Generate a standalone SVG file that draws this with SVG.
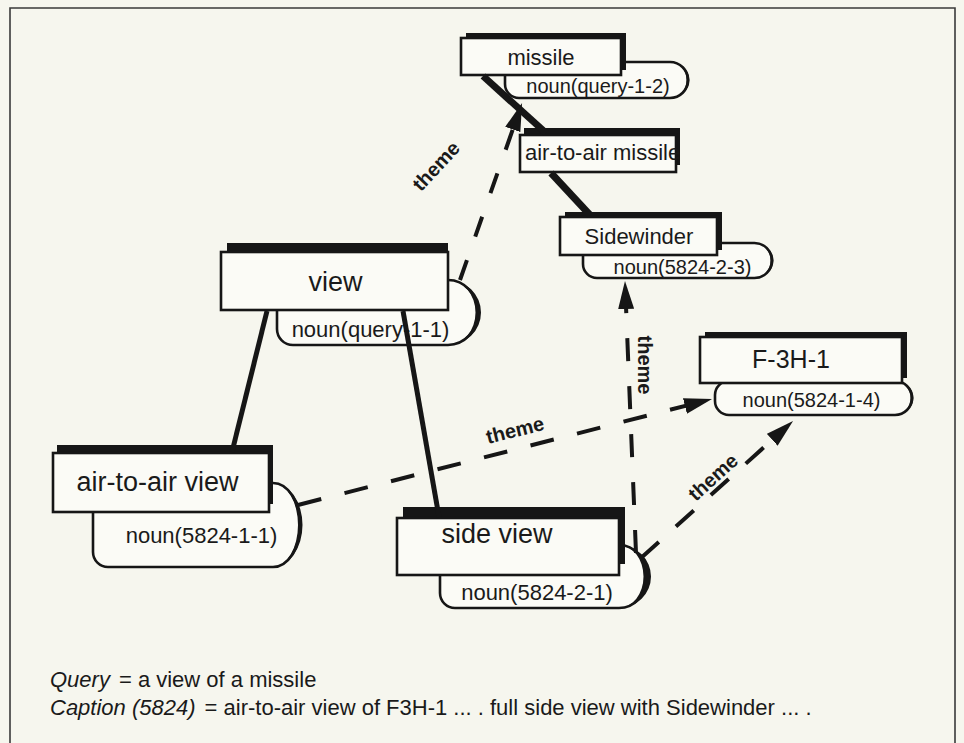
<svg xmlns="http://www.w3.org/2000/svg" width="964" height="743" viewBox="0 0 964 743">
  <style>
    .bg { fill: #f6f6ee; }
    .frame { fill: none; stroke: #3a3a3a; stroke-width: 1.6; }
    .box { fill: #fbfbf6; stroke: #161616; stroke-width: 2.6; }
    .shade { fill: #161616; }
    .pill { fill: #fbfbf6; stroke: #161616; stroke-width: 2.6; }
    .bold-end { fill: #161616; }
    .lbl { font-family: "Liberation Sans", Arial, Helvetica, sans-serif; fill: #1a1a1a; text-anchor: middle; }
    .big { font-size: 27px; }
    .mid { font-size: 25px; }
    .small { font-size: 22px; }
    .noun-l { font-size: 22px; }
    .noun-s { font-size: 20px; }
    .edge { fill: none; stroke: #161616; stroke-linecap: butt; }
    .isa { stroke-width: 7; }
    .isa-thin { stroke-width: 5; }
    .theme { stroke-width: 4; stroke-dasharray: 23 25; }
    .theme-lbl { font-family: "Liberation Sans", Arial, Helvetica, sans-serif; font-size: 20px; font-weight: bold; fill: #1a1a1a; text-anchor: middle; }
    .cap { font-family: "Liberation Sans", Arial, Helvetica, sans-serif; font-size: 22px; fill: #1a1a1a; }
    .it { font-style: italic; }
  </style>
  <defs>
    <marker id="arrow" markerUnits="userSpaceOnUse" markerWidth="28" markerHeight="16" viewBox="0 0 28 16" refX="20" refY="8" orient="auto">
      <path d="M0,0 L28,8 L0,16 Z" fill="#161616"/>
    </marker>
  </defs>

  <rect class="bg" x="0" y="0" width="964" height="743"/>
  <path class="frame" d="M10,743 V8 H955 V743"/>

  <g id="node-missile">
    <path class="pill" d="M519,62 H670 A18 18 0 0 1 670,98 H519 A14 14 0 0 1 505,84 V76 A14 14 0 0 1 519,62 Z"/>
    <path class="bold-end" d="M670,62 A19.5 18 0 0 1 670,98 A16.5 18 0 0 0 670,62 Z"/>
    <rect class="shade" x="466" y="33" width="160" height="37"/>
    <rect class="box" x="461" y="38" width="160" height="37"/>
    <text class="lbl small" x="541" y="65">missile</text>
    <text class="lbl noun-s" x="598" y="93">noun(query-1-2)</text>
  </g>

  <g id="node-air-to-air-missile">
    <rect class="shade" x="524" y="128" width="156" height="37"/>
    <rect class="box" x="520" y="135" width="156" height="37"/>
    <text class="lbl small" x="525" y="160" style="text-anchor:start">air-to-air missile</text>
  </g>

  <g id="node-sidewinder">
    <path class="pill" d="M597,243 H754.5 A17.5 17.5 0 0 1 754.5,278 H597 A14 14 0 0 1 583,264 V257 A14 14 0 0 1 597,243 Z"/>
    <path class="bold-end" d="M754.5,243 A19 17.5 0 0 1 754.5,278 A16 17.5 0 0 0 754.5,243 Z"/>
    <rect class="shade" x="565" y="212" width="157" height="38"/>
    <rect class="box" x="560" y="217" width="157" height="38"/>
    <text class="lbl small" x="639" y="244">Sidewinder</text>
    <text class="lbl noun-s" x="682.5" y="274">noun(5824-2-3)</text>
  </g>

  <g id="node-view">
    <path class="pill" d="M293,280 H448 A30 32.5 0 0 1 448,345 H293 A16 16 0 0 1 277,329 V296 A16 16 0 0 1 293,280 Z"/>
    <path class="bold-end" d="M448,280 A33 32.5 0 0 1 448,345 A27.5 32.5 0 0 0 448,280 Z"/>
    <rect class="shade" x="227" y="243" width="221" height="58"/>
    <rect class="box" x="221" y="252" width="227" height="58"/>
    <text class="lbl big" x="335.5" y="291">view</text>
    <text class="lbl noun-l" x="370.5" y="337">noun(query-1-1)</text>
  </g>

  <g id="node-f3h1">
    <path class="pill" d="M729,381 H895 A17 17 0 0 1 895,415 H729 A14 14 0 0 1 715,401 V395 A14 14 0 0 1 729,381 Z"/>
    <path class="bold-end" d="M895,381 A18.5 17 0 0 1 895,415 A15.5 17 0 0 0 895,381 Z"/>
    <rect class="shade" x="705" y="332" width="202" height="46"/>
    <rect class="box" x="700" y="337" width="202" height="46"/>
    <text class="lbl mid" x="791" y="368">F-3H-1</text>
    <text class="lbl noun-s" x="811.5" y="407">noun(5824-1-4)</text>
  </g>

  <g id="node-air-to-air-view">
    <path class="pill" d="M108,483 H273 A27 42 0 0 1 273,567 H108 A15 15 0 0 1 93,552 V498 A15 15 0 0 1 108,483 Z"/>
    <path class="bold-end" d="M273,483 A29.5 42 0 0 1 273,567 A25 42 0 0 0 273,483 Z"/>
    <rect class="shade" x="57" y="445" width="216" height="59"/>
    <rect class="box" x="53" y="453" width="216" height="59"/>
    <text class="lbl big" x="157.5" y="491">air-to-air view</text>
    <text class="lbl noun-l" x="201.5" y="543">noun(5824-1-1)</text>
  </g>

  <g id="node-side-view">
    <path class="pill" d="M455,545 H619 A28 31.5 0 0 1 619,608 H455 A15 15 0 0 1 440,593 V560 A15 15 0 0 1 455,545 Z"/>
    <path class="bold-end" d="M619,545 A32 31.5 0 0 1 619,608 A24.5 31.5 0 0 0 619,545 Z"/>
    <rect class="shade" x="403" y="507" width="222" height="57"/>
    <rect class="box" x="397" y="518" width="222" height="57"/>
    <text class="lbl big" x="497" y="543">side view</text>
    <text class="lbl noun-l" x="537" y="600">noun(5824-2-1)</text>
  </g>

  <!-- connectors: thick is-a links and dashed theme relations, drawn over the node pills -->
  <g id="connectors">
    <line class="edge isa" x1="483" y1="76" x2="546" y2="133"/>
    <line class="edge isa" x1="551" y1="173" x2="590" y2="215"/>
    <line class="edge isa-thin" x1="267" y1="311" x2="232" y2="452"/>
    <line class="edge isa-thin" x1="403" y1="311" x2="439" y2="517"/>

    <path class="edge theme" d="M460,280 L519.4,110.6" style="stroke-dasharray:21 25" marker-end="url(#arrow)"/>
    <path class="edge theme" d="M298,505 L704.3,401" style="stroke-dasharray:24 24" marker-end="url(#arrow)"/>
    <path class="edge theme" d="M636,553 L625.3,289" marker-end="url(#arrow)"/>
    <path class="edge theme" d="M641,558 L787.1,426.4" style="stroke-dasharray:24 23" marker-end="url(#arrow)"/>

    <text class="theme-lbl" transform="translate(436,166) rotate(-47)" y="7">theme</text>
    <text class="theme-lbl" transform="translate(515,430) rotate(-14)" y="7">theme</text>
    <text class="theme-lbl" transform="translate(645,365) rotate(90)" y="7">theme</text>
    <text class="theme-lbl" transform="translate(713,477) rotate(-42)" y="7">theme</text>
  </g>

  <g id="caption">
    <text class="cap" x="50" y="687"><tspan class="it">Query</tspan><tspan dx="9">= a view of a missile</tspan></text>
    <text class="cap" x="50" y="715"><tspan class="it">Caption (5824)</tspan><tspan dx="9">= air-to-air view of F3H-1 ... . full side view with Sidewinder ... .</tspan></text>
  </g>
</svg>
